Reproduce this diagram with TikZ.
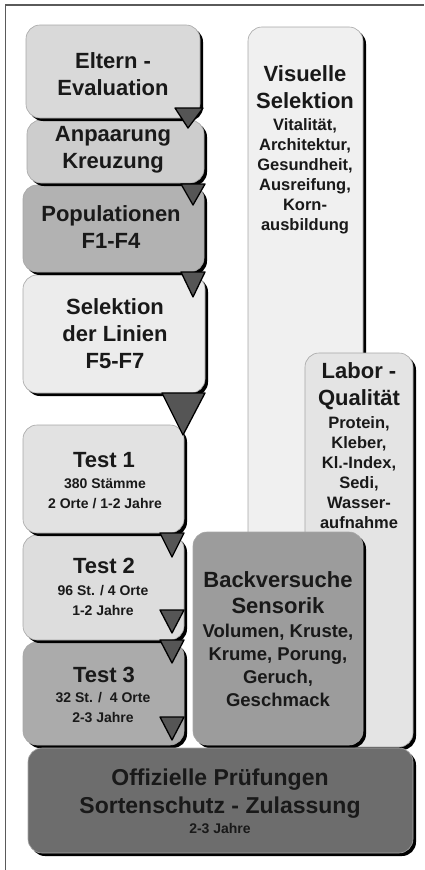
\documentclass[tikz,border=0pt]{standalone}
\usepackage{fontspec}
\setmainfont{Liberation Sans}
\usetikzlibrary{shadows}
\definecolor{cElt}{HTML}{D9D9D9}
\definecolor{cAnp}{HTML}{CDCDCD}
\definecolor{cPop}{HTML}{B2B2B2}
\definecolor{cSel}{HTML}{ECECEC}
\definecolor{cTa}{HTML}{E2E2E2}
\definecolor{cTb}{HTML}{DDDDDD}
\definecolor{cTc}{HTML}{ABABAB}
\definecolor{cVis}{HTML}{F0F0F0}
\definecolor{cLab}{HTML}{E4E4E4}
\definecolor{cBack}{HTML}{9C9C9C}
\definecolor{cOff}{HTML}{6D6D6D}
\definecolor{cTri}{HTML}{555555}
\definecolor{cFrame}{HTML}{5A5A5A}
\tikzset{
  box/.style={rectangle, rounded corners=14pt, draw=black!35, line width=0.6pt, inner sep=0pt,
    drop shadow={shadow xshift=3pt, shadow yshift=-3pt, fill=black, opacity=1}},
  ttl/.style={font=\fontsize{22}{27}\selectfont\bfseries, align=center, inner sep=0pt, anchor=base, text=black!90},
  sub/.style={font=\fontsize{16.5}{20}\selectfont\bfseries, align=center, inner sep=0pt, anchor=base, text=black!90},
  subs/.style={font=\fontsize{14}{20}\selectfont\bfseries, align=center, inner sep=0pt, anchor=base, text=black!90},
  subb/.style={font=\fontsize{18.5}{23}\selectfont\bfseries, align=center, inner sep=0pt, anchor=base, text=black!90},
  tri/.style={fill=cTri, draw=black, line width=1.3pt, line join=round}
}
\begin{document}
\begin{tikzpicture}[x=1pt,y=-1pt]
\useasboundingbox (0,0) rectangle (424,870);
% frame
\draw[cFrame, line width=1.5pt] (5.5,870) -- (5.5,5) -- (424,5);
% right column
\node[box, fill=cVis, minimum width=115pt, minimum height=593pt] (vis) at (305.5,323.5) {};
\node[box, fill=cLab, minimum width=108pt, minimum height=394pt] (lab) at (359,550) {};
\node[box, fill=cBack, minimum width=170pt, minimum height=213pt] (back) at (278,638.5) {};
% left column, bottom to top
\node[box, fill=cTc, minimum width=161pt, minimum height=103pt] (t3) at (103.5,693.5) {};
\node[box, fill=cTb, minimum width=161pt, minimum height=105pt] (t2) at (103.5,587.5) {};
\node[box, fill=cTa, minimum width=161pt, minimum height=108pt] (t1) at (103.5,479) {};
\node[box, fill=cSel, minimum width=182pt, minimum height=118pt] (sel) at (114,334) {};
\node[box, fill=cPop, minimum width=181pt, minimum height=87pt] (pop) at (113.5,228.5) {};
\node[box, fill=cAnp, minimum width=177pt, minimum height=63pt] (anp) at (115.5,151.5) {};
\node[box, fill=cElt, minimum width=174pt, minimum height=93pt] (elt) at (113,71.5) {};
\node[box, fill=cOff, minimum width=385pt, minimum height=105pt] (off) at (220.5,800.5) {};
% triangles
\draw[tri] (175,108) -- (203,108) -- (188,128) -- cycle;
\draw[tri] (181,184) -- (205,184) -- (193,205) -- cycle;
\draw[tri] (181,272) -- (205,272) -- (193,297) -- cycle;
\draw[tri] (162,393) -- (205,393) -- (183,435) -- cycle;
\draw[tri] (160,533) -- (184,533) -- (172,557) -- cycle;
\draw[tri] (160,610) -- (184,610) -- (172,633) -- cycle;
\draw[tri] (160,640) -- (184,640) -- (172,663) -- cycle;
\draw[tri] (160,717) -- (184,717) -- (172,740) -- cycle;
% texts (base anchor = baseline of the last line)
\node[ttl] (eltT) at (113,95) {Eltern -\\Evaluation};
\node[ttl] (anpT) at (113,168) {Anpaarung\\Kreuzung};
\node[ttl] (popT) at (111,248) {Populationen\\F1-F4};
\node[ttl] (selT) at (115,368) {Selektion\\der Linien\\F5-F7};
\node[ttl] (t1T) at (104,467) {Test 1};
\node[subs] (t1S) at (105,508) {380 Stämme\\2 Orte / 1-2 Jahre};
\node[ttl] (t2T) at (104,573) {Test 2};
\node[subs] (t2S) at (103,615) {96 St. / 4 Orte\\1-2 Jahre};
\node[ttl] (t3T) at (104,682) {Test 3};
\node[subs] (t3S) at (103,722) {32 St. /~~4 Orte\\2-3 Jahre};
\node[ttl] (visT) at (305,108) {Visuelle\\Selektion};
\node[sub] (visS) at (305,230) {Vitalität,\\Architektur,\\Gesundheit,\\Ausreifung,\\Korn-\\ausbildung};
\node[ttl] (labT) at (359,405) {Labor -\\Qualität};
\node[sub] (labS) at (359,528) {Protein,\\Kleber,\\Kl.-Index,\\Sedi,\\Wasser-\\aufnahme};
\node[ttl, font=\fontsize{22}{26}\selectfont\bfseries] (backT) at (278,613) {Backversuche\\Sensorik};
\node[subb] (backS) at (278,706) {Volumen, Kruste,\\Krume, Porung,\\Geruch,\\Geschmack};
\node[ttl, font=\fontsize{23}{28}\selectfont\bfseries] (offT) at (220,813) {Offizielle Prüfungen\\Sortenschutz - Zulassung};
\node[subs] (offS) at (220,833) {2-3 Jahre};
\end{tikzpicture}
\end{document}
